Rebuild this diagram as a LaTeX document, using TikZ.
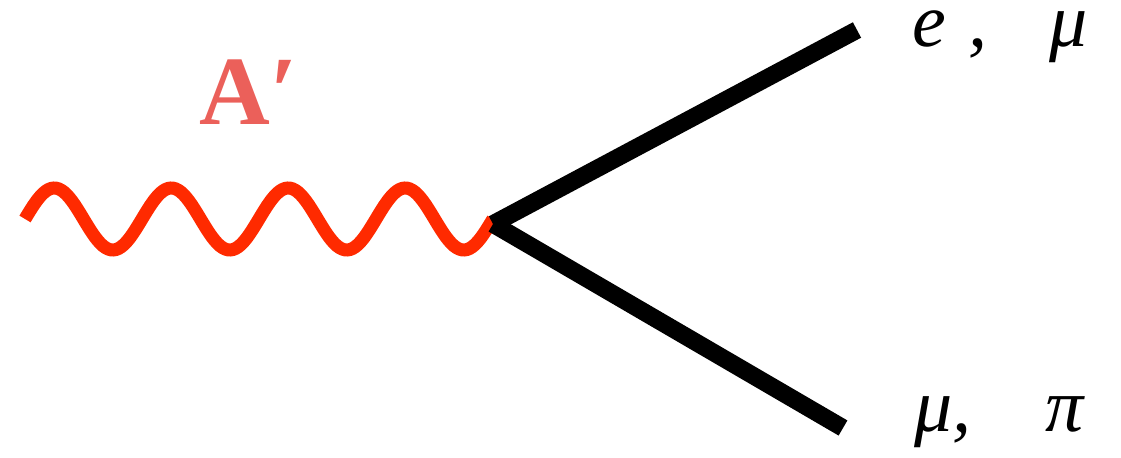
\documentclass[tikz,border=0pt]{standalone}
\usepackage{xcolor}
\usepackage{fontspec}
\setmainfont{Liberation Serif}
\usepackage{tikz}
\usetikzlibrary{positioning}
\definecolor{photonred}{HTML}{FF2A00}
\definecolor{labelred}{HTML}{EB605A}

\begin{document}
\begin{tikzpicture}[x=0.5pt, y=-0.5pt,
    photon/.style={draw=photonred, line width=6.5pt},
    leg/.style={draw=black, line width=8.75pt},
    lbl/.style={anchor=base west, inner sep=0pt, font=\fontsize{38}{44}\selectfont\itshape}]
  \useasboundingbox (0,0) rectangle (1121,458);
  % vertex and outgoing ends
  \coordinate (vtx) at (493,224);
  \coordinate (wstart) at (25,219);
  \coordinate (top) at (857,30);
  \coordinate (bot) at (843,428);
  % photon: four periods from wstart up to the vertex
  \draw[photon, shift={(wstart)}] plot[domain=0:1440, samples=181, smooth]
    (\x*0.325, {-31*sin(\x)});
  \draw[leg] (vtx) -- (top);
  \draw[leg] (vtx) -- (bot);
  % labels
  \node[anchor=base west, inner sep=0pt, text=labelred,
        font=\fontsize{49}{54}\selectfont\bfseries] (aprime) at (199,125) {A′};
  \node[lbl] (upper) at (912,47) {e\hspace{11pt},\hspace{31pt}μ};
  \node[lbl] (lower) at (914,432) {μ,\hspace{37pt}π};
\end{tikzpicture}
\end{document}
